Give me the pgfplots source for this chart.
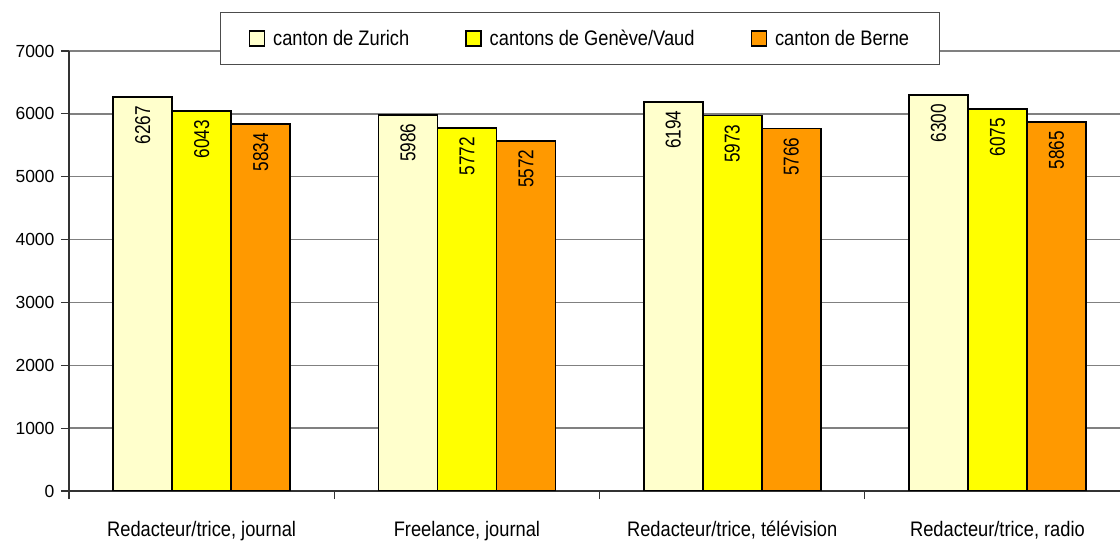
\documentclass[border=0pt]{standalone}
\usepackage{pgfplots}
\pgfplotsset{compat=1.18}
\usepackage{fontspec}
\setmainfont{Liberation Sans}
\newfontfamily\narrowA{Liberation Sans}[FakeStretch=0.87]
\newfontfamily\narrowB{Liberation Sans}[FakeStretch=0.80]
\definecolor{cz}{HTML}{FFFFCC}
\definecolor{cg}{HTML}{FFFF00}
\definecolor{cb}{HTML}{FF9900}
\definecolor{gridc}{HTML}{808080}
\begin{document}
\begin{tikzpicture}
\begin{axis}[
  scale only axis, width=1051pt, height=440pt,
  xmin=-0.5, xmax=3.462, ymin=0, ymax=7000,
  ybar=0pt, bar width=59pt,
  axis x line*=bottom, axis y line*=left,
  axis line style={-, draw=black!80, line width=1.2pt},
  xtick={0,1,2,3},
  xticklabels={{Redacteur/trice, journal},{Freelance, journal},{Redacteur/trice, télévision},{Redacteur/trice, radio}},
  major x tick style={draw=none},
  minor xtick={-0.5,0.5,1.5,2.5},
  minor x tick style={draw=black!80, line width=1.2pt},
  minor tick length=8pt,
  ytick={0,1000,...,7000},
  major tick length=8pt,
  tick align=outside,
  y tick style={draw=black!80, line width=1.2pt},
  ymajorgrids,
  grid style={draw=gridc, line width=1.5pt},
  /pgf/number format/1000 sep={},
  /pgf/number format/assume math mode=true,
  yticklabel style={font=\fontsize{17.5}{20}\selectfont, xshift=-3pt},
  xticklabel style={font=\narrowA\fontsize{21}{24}\selectfont, yshift=-19pt},
  nodes near coords,
  every node near coord/.append style={rotate=90, anchor=east, inner sep=8pt, font=\narrowB\fontsize{21.5}{24}\selectfont, text=black},
  legend columns=3,
  legend style={at={(0.1437,1.0886)}, anchor=north west, draw=black!70, line width=1.2pt, fill=white,
    font=\narrowA\fontsize{21}{24}\selectfont, inner xsep=28pt, inner ysep=15.5pt,
    /tikz/every odd column/.append style={column sep=6pt},
    /tikz/every even column/.append style={column sep=54pt}},
  legend image code/.code={\draw[#1, line width=1.5pt] (0pt,-7.5pt) rectangle (15pt,7.5pt);},
]
\addplot[fill=cz, draw=black, line width=1.8pt] coordinates {(0,6267) (1,5986) (2,6194) (3,6300)};
\addplot[fill=cg, draw=black, line width=1.8pt] coordinates {(0,6043) (1,5772) (2,5973) (3,6075)};
\addplot[fill=cb, draw=black, line width=1.8pt] coordinates {(0,5834) (1,5572) (2,5766) (3,5865)};
\legend{canton de Zurich, cantons de Genève/Vaud, canton de Berne}
\end{axis}
\pgfresetboundingbox
\path[use as bounding box] (-69pt,-50pt) rectangle (1051pt,491pt);
\end{tikzpicture}
\end{document}
